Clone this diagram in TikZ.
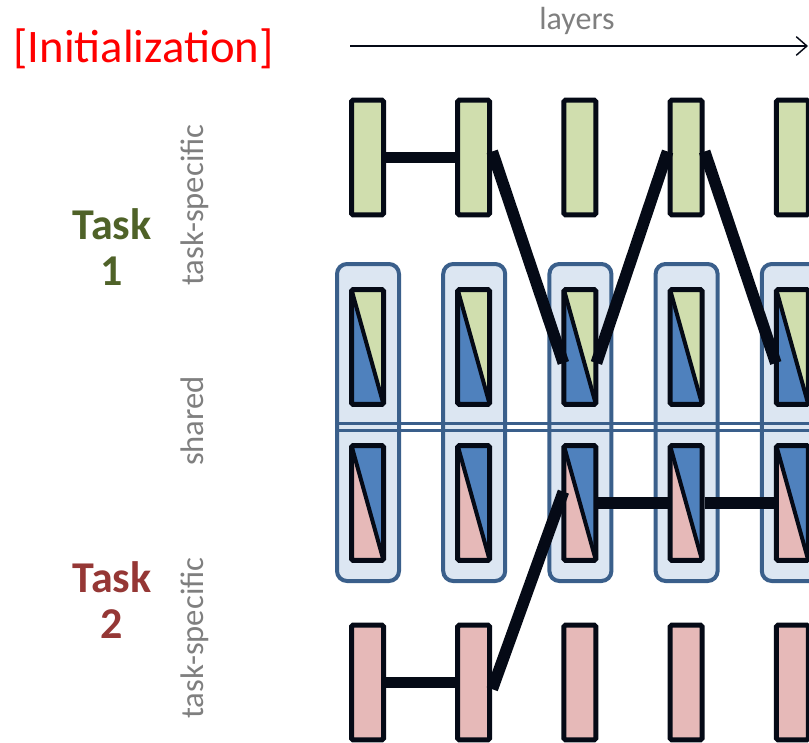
\documentclass[tikz,border=0pt]{standalone}
\usepackage{fontspec}
\setmainfont{Carlito}
\usetikzlibrary{arrows.meta,calc}
\definecolor{cgreen}{HTML}{D0DEAE}
\definecolor{cblue}{HTML}{4F81BD}
\definecolor{cpink}{HTML}{E6B9B8}
\definecolor{cbox}{HTML}{DCE6F2}
\definecolor{cboxline}{HTML}{3A5F8B}
\definecolor{cdark}{HTML}{050A16}
\definecolor{ctaskone}{HTML}{4F6228}
\definecolor{ctasktwo}{HTML}{953735}
\definecolor{cgray}{HTML}{7F7F7F}
\begin{document}
\begin{tikzpicture}[x=0.75pt,y=-0.75pt,
  layerbox/.style={draw=cdark,line width=3.75pt,minimum width=24pt,minimum height=86pt,inner sep=0pt,rounded corners=1.2pt},
  greenbox/.style={layerbox,fill=cgreen},
  pinkbox/.style={layerbox,fill=cpink},
  upperbox/.style={layerbox,path picture={
      \fill[cgreen] (path picture bounding box.north west) -- (path picture bounding box.north east) -- (path picture bounding box.south east) -- cycle;
      \fill[cblue] (path picture bounding box.north west) -- (path picture bounding box.south west) -- (path picture bounding box.south east) -- cycle;
      \draw[cdark,line width=3pt] (path picture bounding box.north west) -- (path picture bounding box.south east);}},
  lowerbox/.style={layerbox,path picture={
      \fill[cblue] (path picture bounding box.north west) -- (path picture bounding box.north east) -- (path picture bounding box.south east) -- cycle;
      \fill[cpink] (path picture bounding box.north west) -- (path picture bounding box.south west) -- (path picture bounding box.south east) -- cycle;
      \draw[cdark,line width=3pt] (path picture bounding box.north west) -- (path picture bounding box.south east);}},
  sharedbox/.style={draw=cboxline,fill=cbox,line width=3pt,minimum width=46.5pt,minimum height=237.75pt,inner sep=0pt,rounded corners=7.5pt},
  conn/.style={draw=cdark,line width=8.8pt},
  sidelabel/.style={text=cgray,font=\fontsize{24.5pt}{28pt}\selectfont,rotate=90,anchor=base,inner sep=0pt},
  tasklabel/.style={font=\bfseries\fontsize{33pt}{34pt}\selectfont,align=center,inner sep=0pt}
]
\useasboundingbox (0,0) rectangle (809,742);
\clip (0,0) rectangle (809,742);

% title and axis
\node[text=red,font=\fontsize{35pt}{40pt}\selectfont,inner sep=0pt] (init) at (143.5,49) {[Initialization]};
\coordinate (axs) at (350,46);
\coordinate (axe) at (808,46);
\draw[cdark,line width=1.1pt,-{Straight Barb[length=8pt,width=14pt]}] (axs) -- (axe);
\node[text=cgray,font=\fontsize{24pt}{28pt}\selectfont,inner sep=0pt] (layers) at (577,21) {layers};

% left labels
\node[tasklabel,text=ctaskone] (task1) at (112,247) {Task\\1};
\node[tasklabel,text=ctasktwo] (task2) at (112,600) {Task\\2};
\node[sidelabel] (ts1) at (203,205) {task-specific};
\node[sidelabel] (sh) at (203,421) {shared};
\node[sidelabel] (ts2) at (203,638) {task-specific};

% columns
\foreach \i/\x in {1/367.5,2/473.7,3/579.9,4/686.1,5/792.3}{
  \node[sharedbox] (s\i) at (\x+0.5,422.5) {};
  \node[greenbox] (t\i) at (\x,157.5) {};
  \node[upperbox] (u\i) at (\x,347) {};
  \node[lowerbox] (l\i) at (\x,503) {};
  \node[pinkbox] (b\i) at (\x,682.5) {};
}

% double separator line
\coordinate (sepa) at (335,423.5);
\coordinate (sepb) at (809,423.5);
\coordinate (sepc) at (335,430.5);
\coordinate (sepd) at (809,430.5);
\draw[cboxline,line width=2.6pt] (sepa) -- (sepb);
\draw[cboxline,line width=2.6pt] (sepc) -- (sepd);

% connectors
\draw[conn] (t1.east) -- (t2.west);
\draw[conn] ([yshift=4.5pt]t2.east) -- ([xshift=1.5pt,yshift=-12pt]u3.west);
\draw[conn] ([xshift=-1.5pt,yshift=-12pt]u3.east) -- ([yshift=4.5pt]t4.west);
\draw[conn] ([yshift=4.5pt]t4.east) -- ([xshift=1.5pt,yshift=-12pt]u5.west);
\draw[conn] (b1.east) -- (b2.west);
\draw[conn] ([yshift=-5pt]b2.east) -- ([xshift=1.5pt,yshift=8.5pt]l3.west);
\draw[conn] (l3.east) -- (l4.west);
\draw[conn] (l4.east) -- (l5.west);
\end{tikzpicture}
\end{document}
